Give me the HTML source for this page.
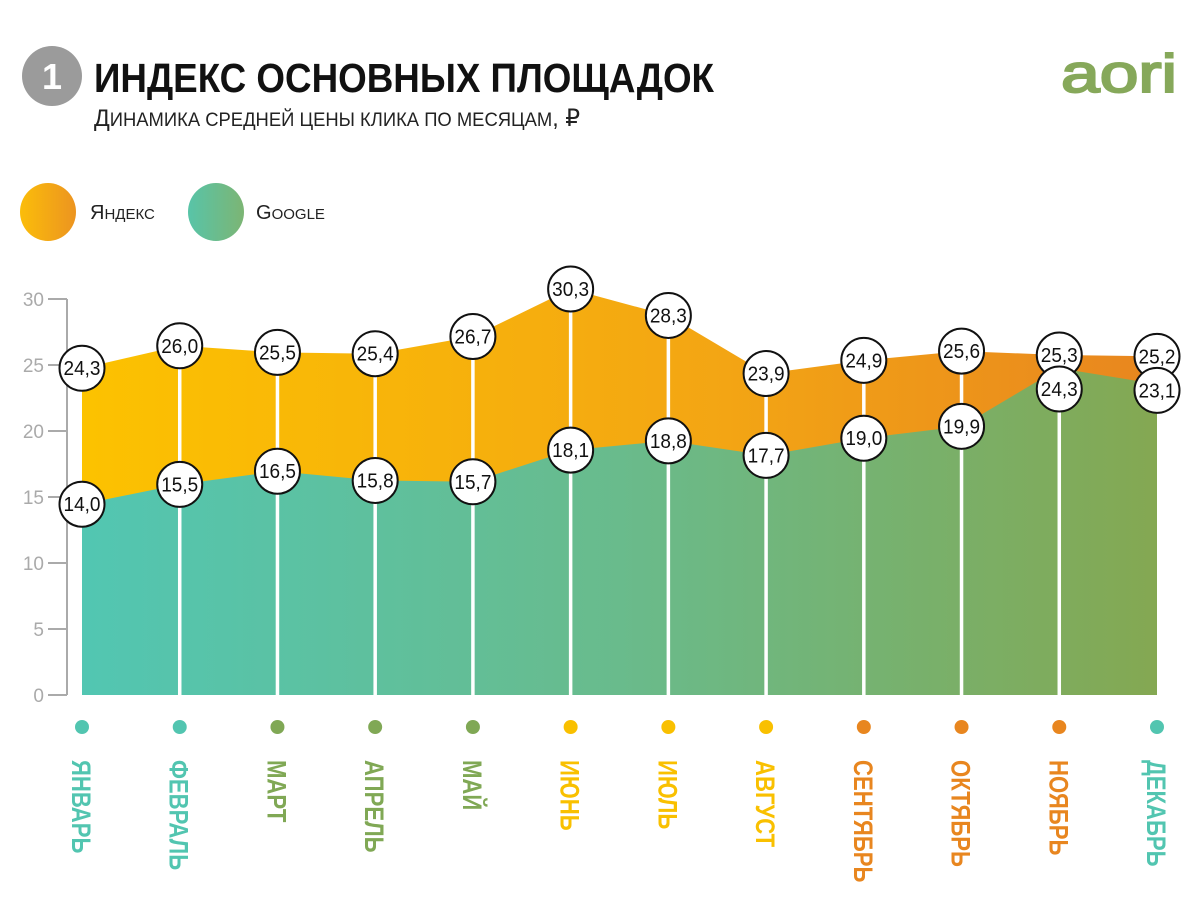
<!DOCTYPE html>
<html><head><meta charset="utf-8">
<style>
body{margin:0;background:#fff;width:1200px;height:910px;overflow:hidden;font-family:"Liberation Sans","DejaVu Sans",sans-serif;}
svg{position:absolute;left:0;top:0}
</style></head>
<body>
<svg id="c" width="1200" height="910" viewBox="0 0 1200 910">
<defs>
<linearGradient id="gy" x1="0" x2="1" y1="0" y2="0"><stop offset="0" stop-color="#fcc200"/><stop offset="0.6" stop-color="#f3a514"/><stop offset="1" stop-color="#e8861f"/></linearGradient>
<linearGradient id="gg" x1="0" x2="1" y1="0" y2="0"><stop offset="0" stop-color="#52c6b2"/><stop offset="0.5" stop-color="#69bb8c"/><stop offset="1" stop-color="#84a852"/></linearGradient>
<linearGradient id="ly" x1="0" x2="1"><stop offset="0" stop-color="#fbbd0a"/><stop offset="1" stop-color="#ec9420"/></linearGradient>
<linearGradient id="lg" x1="0" x2="1"><stop offset="0" stop-color="#58c4a8"/><stop offset="1" stop-color="#7cb574"/></linearGradient>
</defs>
<g>
<circle cx="52" cy="76" r="30" fill="#9b9b9b"/>
<text x="52" y="89" text-anchor="middle" fill="#fff" font-size="36" font-weight="bold">1</text>
<text x="94" y="92" font-size="41" font-weight="bold" fill="#111" textLength="620" lengthAdjust="spacingAndGlyphs">ИНДЕКС ОСНОВНЫХ ПЛОЩАДОК</text>
<text x="94" y="126" font-size="24" fill="#222" textLength="486" lengthAdjust="spacingAndGlyphs">Д<tspan font-size="19">ИНАМИКА СРЕДНЕЙ ЦЕНЫ КЛИКА ПО МЕСЯЦАМ</tspan>, ₽</text>
<text x="1177" y="92" text-anchor="end" font-size="54" fill="#86a85a" stroke="#86a85a" stroke-width="2" textLength="116" lengthAdjust="spacingAndGlyphs">aori</text>
</g>
<g>
<ellipse cx="48" cy="212" rx="28" ry="29" fill="url(#ly)"/>
<text x="90" y="219" font-size="20" fill="#222">Я<tspan font-size="15">НДЕКС</tspan></text>
<ellipse cx="216" cy="212" rx="28" ry="29" fill="url(#lg)"/>
<text x="256" y="219" font-size="20" fill="#222">G<tspan font-size="15">OOGLE</tspan></text>
</g>
<g id="axis"></g>
<g id="areas"></g>
<g id="marks"></g>
<g id="months"></g>
</svg>
<script>
const months=["ЯНВАРЬ","ФЕВРАЛЬ","МАРТ","АПРЕЛЬ","МАЙ","ИЮНЬ","ИЮЛЬ","АВГУСТ","СЕНТЯБРЬ","ОКТЯБРЬ","НОЯБРЬ","ДЕКАБРЬ"];
const yandex=[24.3,26.0,25.5,25.4,26.7,30.3,28.3,23.9,24.9,25.6,25.3,25.2];
const google=[14.0,15.5,16.5,15.8,15.7,18.1,18.8,17.7,19.0,19.9,24.3,23.1];
const yTicks=[0,5,10,15,20,25,30];
const monthColors=["#52c5b0","#52c5b0","#80a855","#80a855","#80a855","#f9c000","#f9c000","#f9c000","#e8861f","#e8861f","#e8861f","#52c5b0"];
const NS="http://www.w3.org/2000/svg";
const x=i=>82+i*(1157-82)/(months.length-1);
const y=v=>689-v*13.2;
const base=695;
function mk(tag,attrs,parent){const e=document.createElementNS(NS,tag);for(const k in attrs)e.setAttribute(k,attrs[k]);document.getElementById(parent).appendChild(e);return e;}
let ax=mk("line",{x1:67,x2:67,y1:299,y2:695,stroke:"#aaa","stroke-width":2},"axis");


yTicks.forEach(t=>{
 const yy=base-t*13.2;
 let l=mk("line",{x1:48,x2:67,y1:yy,y2:yy,stroke:"#aaa","stroke-width":2},"axis");
 
 
 let tx=mk("text",{x:44,y:yy+7,"text-anchor":"end","font-size":19,fill:"#aaa"},"axis");
 tx.textContent=t;
 
 
});
const n=months.length;
let py=`M${x(0)},${base} `+yandex.map((v,i)=>`L${x(i)},${y(v)}`).join(" ")+` L${x(n-1)},${base} Z`;
let a1=mk("path",{d:py,fill:"url(#gy)"},"areas");


let pg=`M${x(0)},${base} `+google.map((v,i)=>`L${x(i)},${y(v)}`).join(" ")+` L${x(n-1)},${base} Z`;
let a2=mk("path",{d:pg,fill:"url(#gg)"},"areas");


const fmt=v=>v.toFixed(1).replace(".",",");
months.forEach((m,i)=>{
 const cx=x(i);
 const yy=y(yandex[i]);let gy=y(google[i]);
 if(gy-yy<34)gy=yy+34;
 if(i>0&&i<n-1){
  let ln=mk("line",{x1:cx,x2:cx,y1:yy,y2:base,stroke:"#fff","stroke-width":3.5},"marks");
  
  
 }
 [[yy,yandex[i],'yandex'],[gy,google[i],'google']].forEach(([cy,v,s])=>{
  let c=mk("circle",{cx:cx,cy:cy,r:22.5,fill:"#fff",stroke:"#111","stroke-width":2},"marks");
  
  
  let t=mk("text",{x:cx,y:cy+7,"text-anchor":"middle","font-size":20,fill:"#111",textLength:37,lengthAdjust:"spacingAndGlyphs"},"marks");
  t.textContent=fmt(v);
  
  
 });
 let d=mk("circle",{cx:cx,cy:727,r:7,fill:monthColors[i]},"months");
 
 
 let t=mk("text",{x:0,y:0,"font-size":27,"font-weight":"bold",fill:monthColors[i],transform:`translate(${cx-10},760) rotate(90) scale(0.82,1)`},"months");
 t.textContent=m;
 
 
});
</script>
</body></html>
